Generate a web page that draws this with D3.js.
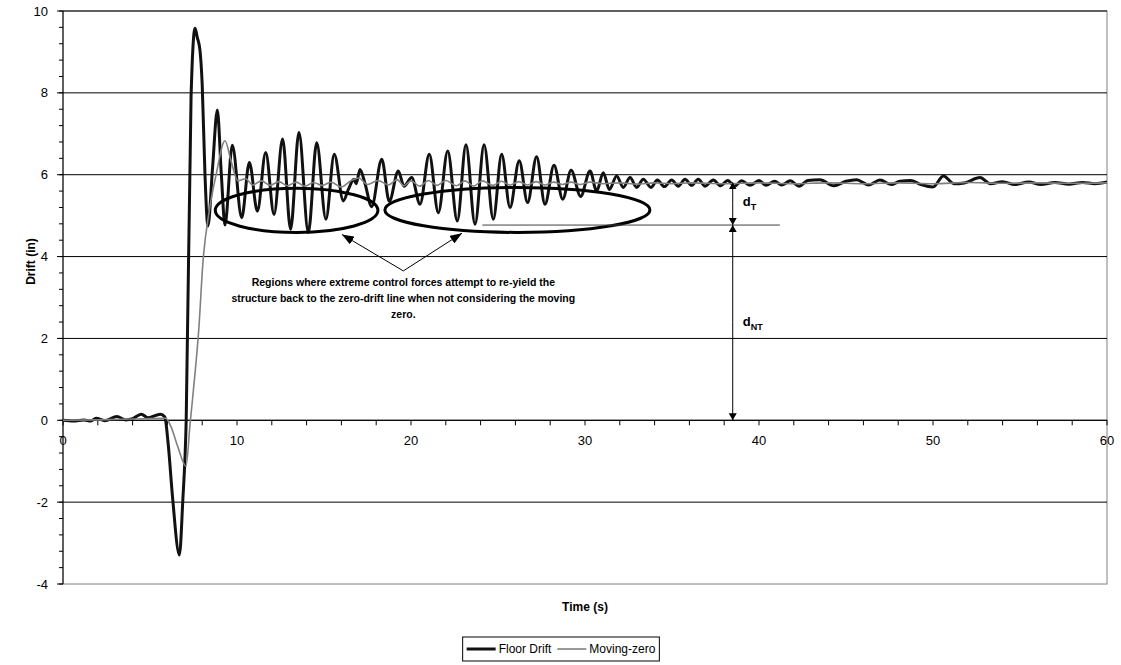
<!DOCTYPE html>
<html>
<head>
<meta charset="utf-8">
<script src="https://cdn.jsdelivr.net/npm/d3@7"></script>
<style>
  html, body { margin: 0; padding: 0; background: #fff; }
  svg { display: block; font-family: Arial, "Liberation Sans", sans-serif; }
</style>
</head>
<body>
<svg id="chart" width="1121" height="665"></svg>
<script>
// Floor drift time history (s, in)
const floorTime = [
  0.0, 0.6, 1.2, 1.6, 1.9, 2.4, 3.1, 3.6, 4.0, 4.5, 4.9, 5.6, 5.85, 6.05, 6.3, 6.69, 6.88, 7.08, 7.36, 7.59,
  7.72, 7.87, 8.0, 8.16, 8.33, 8.6, 8.87, 9.1, 9.31, 9.73, 10.27, 10.71, 11.17, 11.65, 12.13, 12.62, 13.08, 13.56,
  14.10, 14.58, 15.11, 15.59, 16.11, 16.4, 16.72, 16.85, 17.07, 17.36, 17.74, 18.32, 18.75, 19.27, 19.6, 20.04,
  20.52, 21.05, 21.57, 22.11, 22.66, 23.16, 23.68, 24.20, 24.73, 25.21, 25.69, 26.22, 26.70, 27.22, 27.70, 28.22,
  28.72, 29.2, 29.75, 30.29, 30.67, 31.05, 31.4, 31.82, 32.2, 32.59, 32.97, 33.35, 33.79, 34.16, 34.56, 34.98,
  35.36, 35.75, 36.13, 36.51, 36.9, 37.37, 37.8, 38.2, 38.6, 39.0, 39.5, 40.0, 40.4, 40.9, 41.3, 41.8, 42.3, 42.8,
  43.5, 44.3, 45.0, 45.6, 46.3, 46.95, 47.6, 48.1, 48.7, 49.3, 50.0, 50.6, 51.2, 51.8, 52.7, 53.3, 54.0, 54.7,
  55.5, 56.2, 57.0, 57.8, 58.6, 59.3, 60.0
];
const floorDrift = [
  0.00, -0.02, 0.01, -0.02, 0.05, -0.01, 0.09, 0.01, 0.04, 0.15, 0.06, 0.15, 0.08, -0.6, -1.9, -3.29, -2.0, 0.0, 7.9, 9.58,
  9.35, 9.05, 8.2, 6.0, 4.75, 6.2, 7.58, 6.0, 4.77, 6.72, 4.95, 6.30, 5.11, 6.54, 5.03, 6.87, 4.67, 7.03,
  4.59, 6.78, 4.91, 6.50, 5.36, 5.64, 5.89, 5.78, 6.13, 5.78, 5.22, 6.38, 5.35, 6.09, 5.72, 5.93,
  5.28, 6.50, 5.07, 6.58, 4.87, 6.73, 4.79, 6.73, 4.91, 6.50, 5.20, 6.34, 5.32, 6.44, 5.28, 6.23,
  5.40, 6.11, 5.47, 6.09, 5.60, 6.05, 5.64, 5.97, 5.69, 5.93, 5.69, 5.89, 5.69, 5.87, 5.71, 5.87,
  5.72, 5.89, 5.74, 5.89, 5.72, 5.87, 5.73, 5.86, 5.72, 5.85, 5.74, 5.86, 5.74, 5.84, 5.75, 5.85, 5.72, 5.86,
  5.88, 5.73, 5.84, 5.88, 5.75, 5.87, 5.76, 5.84, 5.86, 5.76, 5.70, 5.97, 5.78, 5.80, 5.93, 5.78, 5.83, 5.76,
  5.82, 5.76, 5.81, 5.77, 5.81, 5.78, 5.82
];

// Moving-zero reference (s, in)
const movingTime = [
  0, 2, 4, 5.9, 6.2, 6.6, 7.07, 7.3, 7.6, 7.8, 8.05, 8.4, 8.8, 9.31, 9.65, 10.05, 10.5, 10.9, 11.4, 11.9,
  12.4, 12.9, 13.4, 13.9, 14.4, 14.9, 15.4, 16.0, 16.5, 17.0, 17.5, 18.1, 18.7, 19.2, 19.6, 20.0, 20.5, 21.0,
  21.5, 22.0, 22.6, 23.1, 23.6, 24.1, 24.7, 25.2, 25.7, 26.2, 26.7, 27.2, 27.7, 28.2, 28.7, 29.2, 29.7, 30.3,
  31, 32, 33, 34, 35, 36, 38, 40, 42, 44, 46, 48, 50, 52, 54, 56, 58, 60
];
const movingZero = [
  0.0, 0.01, 0.03, 0.05, -0.15, -0.65, -1.12, -0.1, 1.2, 2.2, 3.9, 5.1, 6.0, 6.83, 6.35, 5.85, 5.9, 5.75, 5.85, 5.74,
  5.83, 5.73, 5.82, 5.72, 5.81, 5.74, 5.82, 5.70, 5.84, 5.92, 5.76, 5.86, 5.75, 5.88, 5.73, 5.85, 5.72, 5.86,
  5.74, 5.86, 5.73, 5.85, 5.72, 5.85, 5.74, 5.84, 5.75, 5.83, 5.75, 5.83, 5.75, 5.82, 5.76, 5.82, 5.76, 5.82,
  5.78, 5.80, 5.77, 5.80, 5.78, 5.80, 5.78, 5.80, 5.78, 5.80, 5.78, 5.80, 5.78, 5.81, 5.79, 5.80, 5.79, 5.80
];

// Axis ticks
const xMajorTicks = [0, 10, 20, 30, 40, 50, 60];
const xMinorTicks = d3.range(0, 60.001, 2);
const yMajorTicks = [-4, -2, 0, 2, 4, 6, 8, 10];
const yMinorTicks = d3.range(-4, 10.001, 0.4);

// Series labels
const seriesNames = ["Floor Drift", "Moving-zero"];

// Annotations, in data units (time s, drift in)
const regionEllipses = [
  { t0: 8.75, t1: 18.1, v: 5.13, half: 0.54 },
  { t0: 18.5, t1: 33.73, v: 5.14, half: 0.55 }
];
const calloutApex = [19.56, 3.65];
const calloutTips = [[16.03, 4.54], [22.93, 4.57]];
const calloutLines = [
  "Regions where extreme control forces attempt to re-yield the",
  "structure back to the zero-drift line when not considering the moving",
  "zero."
];
const dimTime = 38.49;
const dimLevels = { top: 5.81, mid: 4.77, bottom: 0 };
const dimGuide = [24.1, 41.2];

const svg = d3.select("#chart");
const plot = { left: 63, right: 1107, top: 11, bottom: 584 };

const x = d3.scaleLinear().domain([0, 60]).range([plot.left, plot.right]);
const y = d3.scaleLinear().domain([-4, 10]).range([plot.bottom, plot.top]);

// Arrowhead markers
const defs = svg.append("defs");
function marker(id, w, h) {
  defs.append("marker")
    .attr("id", id)
    .attr("viewBox", `0 ${-h / 2} ${w} ${h}`)
    .attr("refX", w).attr("refY", 0)
    .attr("markerUnits", "userSpaceOnUse")
    .attr("markerWidth", w).attr("markerHeight", h)
    .attr("orient", "auto")
    .append("path")
    .attr("d", `M0,${-h / 2}L${w},0L0,${h / 2}Z`)
    .attr("fill", "#000");
}
marker("bigArrow", 12, 9);
marker("smallArrow", 7, 8);

// Plot frame
svg.append("rect")
  .attr("x", plot.left).attr("y", plot.top)
  .attr("width", plot.right - plot.left).attr("height", plot.bottom - plot.top)
  .attr("fill", "none").attr("stroke", "#808080").attr("stroke-width", 1);

// Horizontal gridlines
svg.append("g").selectAll("line")
  .data(yMajorTicks.filter(d => d !== -4))
  .join("line")
  .attr("x1", plot.left).attr("x2", plot.right)
  .attr("y1", d => y(d)).attr("y2", d => y(d))
  .attr("stroke", "#000").attr("stroke-width", 1);

// Y axis
const yAxis = svg.append("g");
yAxis.append("line")
  .attr("x1", plot.left).attr("x2", plot.left)
  .attr("y1", plot.top).attr("y2", plot.bottom)
  .attr("stroke", "#000");
yAxis.selectAll(".minor").data(yMinorTicks).join("line")
  .attr("class", "minor")
  .attr("x1", plot.left - 4).attr("x2", plot.left)
  .attr("y1", d => y(d)).attr("y2", d => y(d))
  .attr("stroke", "#000");
yAxis.selectAll(".major").data(yMajorTicks).join("line")
  .attr("class", "major")
  .attr("x1", plot.left - 6).attr("x2", plot.left)
  .attr("y1", d => y(d)).attr("y2", d => y(d))
  .attr("stroke", "#000");
yAxis.selectAll("text").data(yMajorTicks).join("text")
  .attr("x", plot.left - 15)
  .attr("y", d => y(d))
  .attr("dy", "0.35em")
  .attr("text-anchor", "end")
  .attr("font-size", 13)
  .text(d => d);

// X axis along zero drift
const xAxis = svg.append("g");
xAxis.append("line")
  .attr("x1", plot.left).attr("x2", plot.right)
  .attr("y1", y(0)).attr("y2", y(0))
  .attr("stroke", "#000");
xAxis.selectAll(".tick").data(xMinorTicks).join("line")
  .attr("class", "tick")
  .attr("x1", d => x(d)).attr("x2", d => x(d))
  .attr("y1", y(0)).attr("y2", y(0) + 5)
  .attr("stroke", "#000");
xAxis.selectAll("text").data(xMajorTicks).join("text")
  .attr("x", d => x(d))
  .attr("y", y(0) + 25)
  .attr("text-anchor", "middle")
  .attr("font-size", 13)
  .text(d => d);

// Series
const line = d3.line()
  .x(d => x(d[0]))
  .y(d => y(d[1]))
  .curve(d3.curveMonotoneX);

const movingPts = movingTime.map((t, i) => [t, movingZero[i]]);
const floorPts = floorTime.map((t, i) => [t, floorDrift[i]]);

svg.append("path")
  .datum(floorPts)
  .attr("d", line)
  .attr("fill", "none")
  .attr("stroke", "#111")
  .attr("stroke-width", 3)
  .attr("stroke-linejoin", "round");

svg.append("path")
  .datum(movingPts)
  .attr("d", line)
  .attr("fill", "none")
  .attr("stroke", "#808080")
  .attr("stroke-width", 1.6)
  .attr("stroke-linejoin", "round");

// Highlighted regions
svg.append("g").selectAll("ellipse")
  .data(regionEllipses)
  .join("ellipse")
  .attr("cx", d => (x(d.t0) + x(d.t1)) / 2)
  .attr("cy", d => y(d.v))
  .attr("rx", d => (x(d.t1) - x(d.t0)) / 2)
  .attr("ry", d => y(d.v - d.half) - y(d.v))
  .attr("fill", "none")
  .attr("stroke", "#000")
  .attr("stroke-width", 3);

// Callout arrows and text
svg.append("g").selectAll("line")
  .data(calloutTips)
  .join("line")
  .attr("x1", x(calloutApex[0])).attr("y1", y(calloutApex[1]))
  .attr("x2", d => x(d[0])).attr("y2", d => y(d[1]))
  .attr("stroke", "#000").attr("stroke-width", 1)
  .attr("marker-end", "url(#bigArrow)");

svg.append("g").selectAll("text")
  .data(calloutLines)
  .join("text")
  .attr("x", x(calloutApex[0]))
  .attr("y", (d, i) => y(calloutApex[1]) + 15 + i * 16)
  .attr("text-anchor", "middle")
  .attr("font-size", 10.5)
  .attr("font-weight", "bold")
  .text(d => d);

// Drift dimension guides
svg.append("line")
  .attr("x1", x(dimGuide[0])).attr("x2", x(dimGuide[1]))
  .attr("y1", y(dimLevels.mid)).attr("y2", y(dimLevels.mid))
  .attr("stroke", "#404040").attr("stroke-width", 1);

const dimX = x(dimTime);
[[dimLevels.mid, dimLevels.top], [dimLevels.top, dimLevels.mid],
 [dimLevels.mid, dimLevels.bottom], [dimLevels.bottom, dimLevels.mid]].forEach(([a, b]) => {
  svg.append("line")
    .attr("x1", dimX).attr("x2", dimX)
    .attr("y1", (y(a) + y(b)) / 2).attr("y2", y(b))
    .attr("stroke", "#000").attr("stroke-width", 1)
    .attr("marker-end", "url(#smallArrow)");
});

function dimLabel(sub, v) {
  const t = svg.append("text")
    .attr("x", dimX + 10)
    .attr("y", y(v))
    .attr("font-size", 13)
    .attr("font-weight", "bold");
  t.append("tspan").text("d");
  t.append("tspan").attr("font-size", 9).attr("dy", 4).text(sub);
}
dimLabel("T", (dimLevels.top + dimLevels.mid) / 2 - 0.05);
dimLabel("NT", 2.3);

// Axis titles
svg.append("text")
  .attr("transform", `translate(35,${(plot.top + plot.bottom) / 2 - 36}) rotate(-90)`)
  .attr("text-anchor", "middle")
  .attr("font-size", 12)
  .attr("font-weight", "bold")
  .text("Drift (in)");

svg.append("text")
  .attr("x", (plot.left + plot.right) / 2)
  .attr("y", 611)
  .attr("text-anchor", "middle")
  .attr("font-size", 12)
  .attr("font-weight", "bold")
  .text("Time (s)");

// Legend
const legend = svg.append("g");
const legendStyles = [
  { color: "#111", width: 3 },
  { color: "#808080", width: 1.6 }
];
let cursor = 0;
const items = legend.append("g");
seriesNames.forEach((name, i) => {
  const g = items.append("g").attr("transform", `translate(${cursor},0)`);
  g.append("line")
    .attr("x1", 0).attr("x2", 29).attr("y1", 0).attr("y2", 0)
    .attr("stroke", legendStyles[i].color)
    .attr("stroke-width", legendStyles[i].width);
  const txt = g.append("text")
    .attr("x", 32).attr("y", 0).attr("dy", "0.35em")
    .attr("font-size", 12)
    .text(name);
  cursor += 32 + txt.node().getComputedTextLength() + 6;
});
const legendW = cursor - 6 + 8;
const legendX = 561 - legendW / 2;
legend.insert("rect", ":first-child")
  .attr("x", legendX).attr("y", 637)
  .attr("width", legendW).attr("height", 24)
  .attr("fill", "#fff").attr("stroke", "#000").attr("stroke-width", 1);
items.attr("transform", `translate(${legendX + 4},649)`);
</script>
</body>
</html>
